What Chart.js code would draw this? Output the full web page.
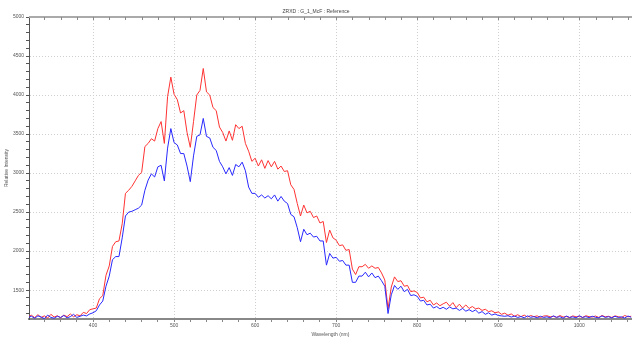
<!DOCTYPE html>
<html>
<head>
<meta charset="utf-8">
<script src="https://cdn.jsdelivr.net/npm/chart.js@4/dist/chart.umd.min.js"></script>
<style>
html,body{margin:0;padding:0;background:#fff;}
#wrap{position:relative;width:632px;height:338px;}
</style>
</head>
<body>
<div id="wrap"><canvas id="c" width="632" height="338"></canvas></div>
<script>
const chartTitle = "ZRXD : G_1_McF : Reference";
const xTitle = "Wavelength (nm)";
const yTitle = "Relative Intensity";

const wavelengths = [
320,324,328,332,336,340,344,348,352,356,360,364,368,372,376,380,384,388,392,396,
400,404,408,412,416,420,424,428,432,436,440,444,448,452,456,460,464,468,472,476,
480,484,488,492,496,500,504,508,512,516,520,524,528,532,536,540,544,548,552,556,
560,564,568,572,576,580,584,588,592,596,600,604,608,612,616,620,624,628,632,636,
640,644,648,652,656,660,664,668,672,676,680,684,688,692,696,700,704,708,712,716,
720,724,728,732,736,740,744,748,752,756,760,764,768,772,776,780,784,788,792,796,
800,804,808,812,816,820,824,828,832,836,840,844,848,852,856,860,864,868,872,876,
880,884,888,892,896,900,904,908,912,916,920,924,928,932,936,940,944,948,952,956,
960,964,968,972,976,980,984,988,992,996,1000,1004,1008,1012,1016,1020,1024,1028,1032,1036,
1040,1044,1048,1052,1056,1060,1064
];

const redValues = [
1160,1178,1148,1185,1150,1170,1142,1190,1155,1172,1145,1180,1160,1195,1158,1185,1170,1215,1200,1250,
1260,1270,1390,1430,1690,1810,2060,2120,2130,2350,2740,2780,2830,2900,2970,3010,3340,3380,3440,3410,
3570,3660,3380,3980,4230,4010,3940,3770,3800,3520,3330,3660,4000,4060,4340,4040,4000,3840,3800,3590,
3520,3410,3540,3420,3620,3570,3600,3380,3280,3150,3190,3090,3170,3060,3160,3080,3150,3050,3090,3020,
3030,2850,2790,2610,2450,2590,2490,2510,2430,2450,2360,2380,2110,2270,2170,2140,2070,2080,2010,2020,
1770,1700,1800,1800,1830,1780,1810,1780,1790,1720,1630,1260,1540,1670,1610,1620,1550,1560,1480,1490,
1470,1400,1410,1350,1370,1310,1335,1300,1325,1345,1295,1340,1275,1320,1270,1310,1265,1290,1260,1270,
1240,1255,1225,1235,1210,1220,1190,1205,1178,1195,1165,1185,1160,1180,1155,1175,1160,1170,1150,1168,
1172,1158,1165,1150,1175,1155,1162,1148,1170,1158,1165,1150,1172,1160,1155,1168,1150,1175,1158,1165,
1150,1170,1160,1148,1175,1158,1165
];

const blueValues = [
1150,1165,1140,1170,1155,1135,1180,1150,1140,1165,1150,1175,1145,1160,1190,1150,1165,1180,1170,1195,
1210,1235,1310,1360,1550,1680,1890,1930,1930,2170,2450,2500,2510,2530,2550,2590,2780,2910,2990,2950,
3080,3100,2900,3320,3570,3390,3360,3250,3250,3090,2890,3220,3470,3490,3700,3470,3450,3330,3290,3150,
3080,2990,3070,2970,3110,3080,3140,3030,2820,2740,2740,2690,2720,2680,2710,2670,2720,2640,2700,2640,
2610,2470,2440,2300,2120,2280,2210,2230,2180,2190,2130,2130,1820,1970,1910,1920,1870,1880,1820,1820,
1600,1600,1680,1680,1730,1670,1720,1660,1680,1620,1550,1200,1440,1560,1510,1550,1480,1510,1430,1440,
1420,1360,1370,1310,1320,1270,1290,1260,1280,1255,1285,1260,1270,1240,1265,1230,1250,1225,1245,1205,
1225,1190,1210,1180,1195,1175,1170,1165,1172,1155,1168,1150,1162,1145,1170,1152,1160,1145,1165,1150,
1158,1145,1170,1152,1160,1140,1168,1150,1158,1145,1172,1150,1160,1148,1165,1152,1145,1170,1150,1160,
1145,1165,1150,1158,1142,1168,1152
];

const xMin = 321, xMax = 1065, yMin = 1130, yMax = 5000;

const FONT = "'Liberation Sans', Arial, sans-serif";
const LABEL_COLOR = '#555';

const topBorder = {
  id: 'topBorder',
  afterDatasetsDraw(chart) {
    const {ctx, chartArea, scales} = chart;
    ctx.save();
    ctx.strokeStyle = '#aaa';
    ctx.lineWidth = 2;
    ctx.beginPath();
    ctx.moveTo(chartArea.left, chartArea.top);
    ctx.lineTo(chartArea.right, chartArea.top);
    ctx.stroke();
    ctx.strokeStyle = '#888';
    ctx.lineWidth = 1;
    scales.x.ticks.forEach(t => {
      const px = Math.round(scales.x.getPixelForValue(t.value)) + 0.5;
      ctx.beginPath();
      ctx.moveTo(px, chartArea.top);
      ctx.lineTo(px, chartArea.top + 3);
      ctx.stroke();
    });
    ctx.restore();
  }
};

new Chart(document.getElementById('c'), {
  type: 'line',
  data: {
    datasets: [
      {
        label: 'Blue',
        data: wavelengths.map((w, i) => ({x: w, y: blueValues[i]})),
        borderColor: 'rgb(40,40,255)',
        borderWidth: 1,
        pointRadius: 0,
        tension: 0
      },
      {
        label: 'Red',
        data: wavelengths.map((w, i) => ({x: w, y: redValues[i]})),
        borderColor: 'rgb(255,50,50)',
        borderWidth: 1,
        pointRadius: 0,
        tension: 0
      }
    ]
  },
  options: {
    responsive: false,
    animation: false,
    layout: {padding: {top: 1, right: 0, bottom: 0, left: 0}},
    plugins: {
      legend: {display: false},
      tooltip: {enabled: false},
      title: {
        display: true,
        text: chartTitle,
        color: '#444',
        font: {family: FONT, size: 5, weight: 'normal'},
        padding: {top: 8, bottom: 2}
      }
    },
    scales: {
      x: {
        type: 'linear',
        min: xMin,
        max: xMax,
        afterFit: s => { s.height = 19; },
        ticks: {
          stepSize: 20,
          includeBounds: false,
          autoSkip: false,
          maxRotation: 0,
          padding: 1,
          color: LABEL_COLOR,
          font: {family: FONT, size: 5},
          callback: v => (v % 100 === 0 ? String(v) : '')
        },
        grid: {
          color: c => (c.tick && c.tick.value % 100 === 0 ? '#cfcfcf' : 'rgba(0,0,0,0)'),
          tickColor: '#888',
          tickLength: 3,
          lineWidth: 1
        },
        border: {display: true, color: '#888', width: 2, dash: [1, 2]},
        title: {
          display: true,
          text: xTitle,
          color: LABEL_COLOR,
          font: {family: FONT, size: 5},
          padding: {top: 1, bottom: 0}
        }
      },
      y: {
        type: 'linear',
        min: yMin,
        max: yMax,
        afterFit: s => { s.width = 29; },
        ticks: {
          stepSize: 100,
          includeBounds: false,
          autoSkip: false,
          padding: 2,
          color: LABEL_COLOR,
          font: {family: FONT, size: 5},
          callback: v => (v % 500 === 0 ? String(v) : '')
        },
        grid: {
          color: c => (c.tick && c.tick.value % 500 === 0 ? '#cfcfcf' : 'rgba(0,0,0,0)'),
          tickColor: '#555',
          tickLength: 3,
          lineWidth: 1
        },
        border: {display: true, color: '#555', width: 1, dash: [1, 2]},
        title: {
          display: true,
          text: yTitle,
          color: LABEL_COLOR,
          font: {family: FONT, size: 5},
          padding: {top: 4, bottom: 2}
        }
      }
    }
  },
  plugins: [topBorder]
});
</script>
</body>
</html>
